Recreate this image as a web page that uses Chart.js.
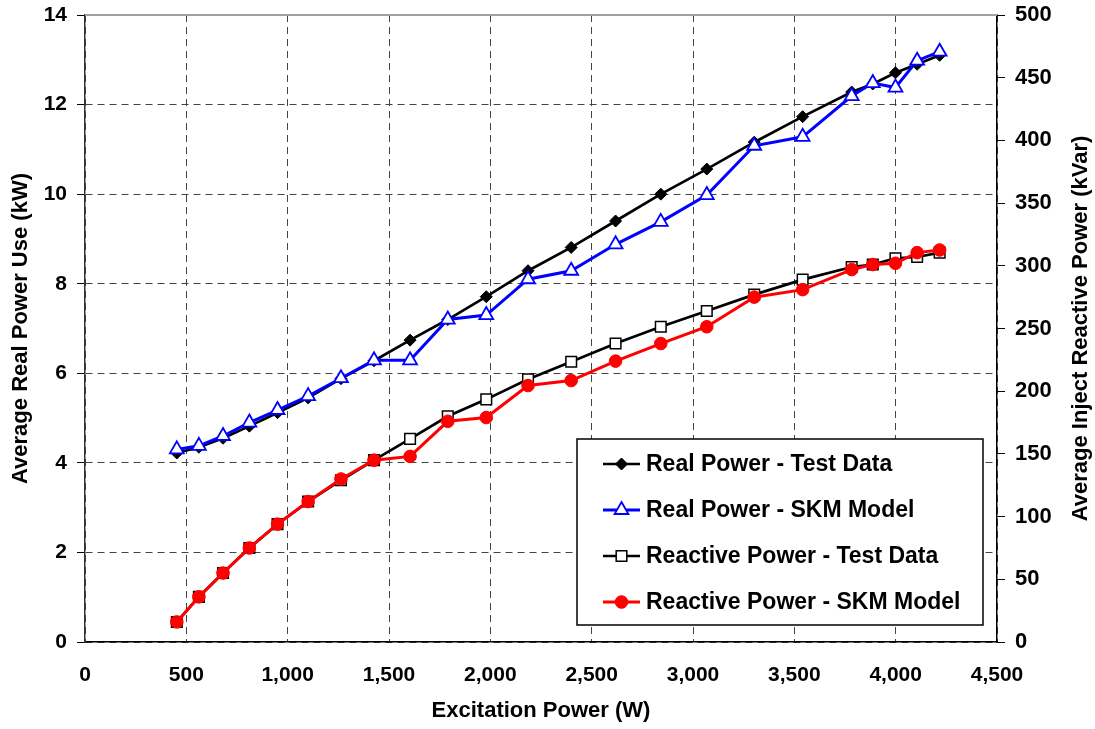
<!DOCTYPE html>
<html>
<head>
<meta charset="utf-8">
<script src="https://cdn.jsdelivr.net/npm/chart.js@4"></script>
<style>
  html, body { margin: 0; padding: 0; background: #fff; }
  #wrap { width: 1095px; height: 729px; position: relative; }
</style>
</head>
<body>
<div id="wrap"><canvas id="chart"></canvas></div>
<script>
"use strict";

// excitation power (W) for every test point
const excitationW = [453, 562, 681, 811, 950, 1101, 1263, 1426, 1604, 1790, 1980, 2186,
  2399, 2618, 2841, 3068, 3302, 3541, 3783, 3887, 3999, 4106, 4217];

// average real power use (kW)
const realTest = [4.22, 4.35, 4.55, 4.82, 5.12, 5.45, 5.88, 6.28, 6.74, 7.20, 7.71, 8.29,
  8.81, 9.40, 10.0, 10.56, 11.16, 11.73, 12.28, 12.46, 12.71, 12.90, 13.10];
const realSkm = [4.30, 4.38, 4.60, 4.90, 5.18, 5.49, 5.89, 6.29, 6.29, 7.20, 7.30, 8.10,
  8.29, 8.88, 9.38, 9.98, 11.08, 11.28, 12.19, 12.48, 12.38, 12.98, 13.18];

// average injected reactive power (kVar)
const reactiveTest = [16, 36, 55, 75, 94, 112, 129, 145, 162, 180, 193.5, 209.5,
  223.5, 238, 251.4, 264, 277, 289, 299, 301, 306, 307, 310.5];
const reactiveSkm = [16, 36, 55, 75, 94, 112, 130, 145, 148, 176, 179, 204.5,
  208.5, 224, 238, 251.4, 275, 281, 297, 301, 302, 310.5, 312.6];

const xTitle = "Excitation Power (W)";
const yTitle = "Average Real Power Use (kW)";
const y1Title = "Average Inject Reactive Power (kVar)";

const FONT = "'Liberation Sans', Arial, Helvetica, sans-serif";
Chart.defaults.font.family = FONT;
Chart.defaults.color = "#000";

const pairs = ys => excitationW.map((x, i) => ({ x, y: ys[i] }));

// solid grey top frame line
const topFrame = {
  id: "topFrame",
  beforeDatasetsDraw(chart) {
    const { ctx, chartArea: a } = chart;
    ctx.save();
    ctx.strokeStyle = "#a0a0a0";
    ctx.lineWidth = 2;
    ctx.beginPath();
    ctx.moveTo(a.left, a.top);
    ctx.lineTo(a.right, a.top);
    ctx.stroke();
    ctx.restore();
  }
};

// right axis title reads bottom-to-top like the left one
const rightTitle = {
  id: "rightTitle",
  afterDraw(chart) {
    const { ctx, chartArea: a } = chart;
    ctx.save();
    ctx.translate(1081, (a.top + a.bottom) / 2);
    ctx.rotate(-Math.PI / 2);
    ctx.font = "bold 22px " + FONT;
    ctx.fillStyle = "#000";
    ctx.textAlign = "center";
    ctx.textBaseline = "middle";
    ctx.fillText(y1Title, 0, 0);
    ctx.restore();
  }
};

// boxed legend sitting inside the plot, bottom right
const legendBox = {
  id: "legendBox",
  afterDraw(chart) {
    const ctx = chart.ctx;
    const bx = 577, by = 439, bw = 406, bh = 186;
    ctx.save();
    ctx.fillStyle = "#fff";
    ctx.fillRect(bx, by, bw, bh);
    ctx.strokeStyle = "#000";
    ctx.lineWidth = 1.5;
    ctx.strokeRect(bx, by, bw, bh);

    ctx.font = "bold 23px " + FONT;
    ctx.textBaseline = "middle";
    chart.data.datasets.forEach((ds, i) => {
      const y = by + 25 + i * 46;
      ctx.strokeStyle = ds.borderColor;
      ctx.lineWidth = ds.borderWidth;
      ctx.beginPath();
      ctx.moveTo(bx + 26, y);
      ctx.lineTo(bx + 63, y);
      ctx.stroke();

      ctx.fillStyle = ds.pointBackgroundColor;
      ctx.strokeStyle = ds.pointBorderColor;
      ctx.lineWidth = ds.pointBorderWidth;
      Chart.helpers.drawPoint(ctx, {
        pointStyle: ds.pointStyle,
        radius: ds.pointRadius,
        rotation: 0,
        borderWidth: ds.pointBorderWidth
      }, bx + 44.5, y);

      ctx.fillStyle = "#000";
      ctx.fillText(ds.label, bx + 69, y + 1);
    });
    ctx.restore();
  }
};

const tickFont = size => ({ family: FONT, size, weight: "bold" });

new Chart(document.getElementById("chart"), {
  type: "line",
  data: {
    datasets: [
      {
        label: "Real Power - Test Data",
        data: pairs(realTest),
        yAxisID: "y",
        borderColor: "#000",
        borderWidth: 2.7,
        pointStyle: "rectRot",
        pointRadius: 6,
        pointBackgroundColor: "#000",
        pointBorderColor: "#000",
        pointBorderWidth: 1,
        order: 4
      },
      {
        label: "Real Power - SKM Model",
        data: pairs(realSkm),
        yAxisID: "y",
        borderColor: "#0000ff",
        borderWidth: 3,
        pointStyle: "triangle",
        pointRadius: 8,
        pointBackgroundColor: "#fff",
        pointBorderColor: "#0000ff",
        pointBorderWidth: 1.8,
        order: 3
      },
      {
        label: "Reactive Power - Test Data",
        data: pairs(reactiveTest),
        yAxisID: "y1",
        borderColor: "#000",
        borderWidth: 2.7,
        pointStyle: "rect",
        pointRadius: 7.5,
        pointBackgroundColor: "#fff",
        pointBorderColor: "#000",
        pointBorderWidth: 1.5,
        order: 2
      },
      {
        label: "Reactive Power - SKM Model",
        data: pairs(reactiveSkm),
        yAxisID: "y1",
        borderColor: "#ff0000",
        borderWidth: 3,
        pointStyle: "circle",
        pointRadius: 6.3,
        pointBackgroundColor: "#ff0000",
        pointBorderColor: "#ff0000",
        pointBorderWidth: 1,
        order: 1
      }
    ]
  },
  options: {
    responsive: true,
    maintainAspectRatio: false,
    animation: false,
    events: [],
    layout: { padding: { top: 15, left: 0, right: 0, bottom: 0 } },
    plugins: {
      legend: { display: false },
      tooltip: { enabled: false }
    },
    elements: { line: { tension: 0 } },
    scales: {
      x: {
        type: "linear",
        min: 0,
        max: 4500,
        ticks: {
          stepSize: 500,
          autoSkip: false,
          maxRotation: 0,
          padding: 21,
          font: tickFont(21),
          callback: v => v.toLocaleString("en-US")
        },
        grid: { color: "#444", lineWidth: 1, drawTicks: false },
        border: { color: "#000", width: 1.5, dash: [7, 5] },
        title: {
          display: true,
          text: xTitle,
          font: tickFont(22),
          padding: { top: 0, bottom: 5 }
        },
        afterFit(scale) {
          scale.height = 87;
          scale.paddingLeft = 0;
          scale.paddingRight = 0;
        }
      },
      y: {
        position: "left",
        min: 0,
        max: 14,
        ticks: { stepSize: 2, padding: 10, font: tickFont(21) },
        grid: { color: "#444", lineWidth: 1, tickLength: 8, tickColor: "#000" },
        border: { color: "#333", width: 1.5, dash: [7, 5] },
        title: {
          display: true,
          text: yTitle,
          font: tickFont(22),
          padding: { top: 8, bottom: 0 }
        },
        afterFit(scale) {
          scale.width = 85;
          scale.paddingTop = 0;
          scale.paddingBottom = 0;
        }
      },
      y1: {
        position: "right",
        min: 0,
        max: 500,
        ticks: { stepSize: 50, padding: 10, font: tickFont(22) },
        grid: { drawOnChartArea: false, tickLength: 8, tickColor: "#000" },
        border: { color: "#000", width: 1.5 },
        title: { display: false },
        afterFit(scale) {
          scale.width = 98;
          scale.paddingTop = 0;
          scale.paddingBottom = 0;
        }
      }
    }
  },
  plugins: [topFrame, rightTitle, legendBox]
});
</script>
</body>
</html>
